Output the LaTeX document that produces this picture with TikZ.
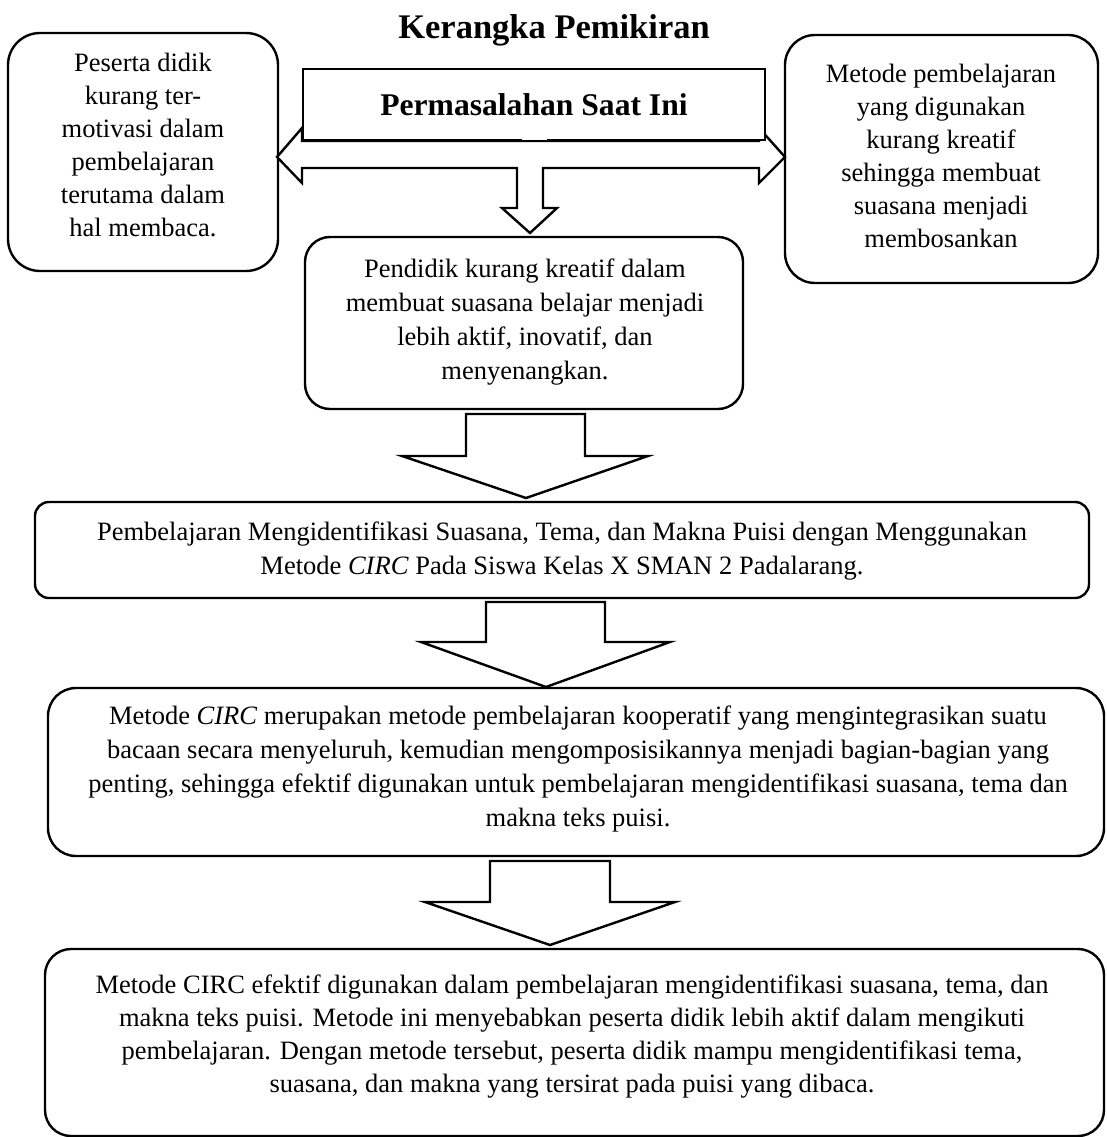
\documentclass[tikz,border=0pt]{standalone}
\usepackage{fontspec}
\setmainfont{Liberation Serif}
\begin{document}
\begin{tikzpicture}[x=1pt,y=-1pt,
  boxst/.style={draw, line width=2.4pt, fill=white, inner sep=0pt, outer sep=0pt},
  txt/.style={align=center, inner sep=0pt, font=\fontsize{26.5}{34}\selectfont},
  txtn/.style={align=center, inner sep=0pt, font=\fontsize{26.5}{33}\selectfont},
  blockarrow/.style={draw, line width=2.4pt, fill=white, line join=miter}]
\useasboundingbox (0,0) rectangle (1106,1137);

% title
\node[inner sep=0pt, font=\fontsize{34.5}{40}\selectfont\bfseries] (title) at (554,30) {Kerangka Pemikiran};

% left / right boxes
\node[boxst, rounded corners=32pt, minimum width=270pt, minimum height=238pt] (L) at (143,152) {};
\node[txtn] (Lt) at (143,145) {Peserta didik\\kurang ter-\\motivasi dalam\\pembelajaran\\terutama dalam\\hal membaca.};
\node[boxst, rounded corners=30pt, minimum width=313pt, minimum height=248pt] (R) at (941.5,159) {};
\node[txtn] (Rt) at (941,156) {Metode pembelajaran\\yang digunakan\\kurang kreatif\\sehingga membuat\\suasana menjadi\\membosankan};

% triple block arrow under the problem box
\draw[blockarrow] (277,157) -- (302,128) -- (302,141) -- (759,141) -- (759,128) -- (785,157)
  -- (759,183) -- (759,168) -- (543,168) -- (543,208) -- (557,208) -- (530,233)
  -- (502,208) -- (517,208) -- (517,168) -- (302,168) -- (302,183) -- cycle;
\node[boxst, minimum width=462pt, minimum height=71pt] (P) at (534,104.5) {};
\fill[white] (522,137.8) rectangle (547,140);
\node[inner sep=0pt, font=\fontsize{31.6}{38}\selectfont\bfseries] (Pt) at (534,105) {Permasalahan Saat Ini};

% middle box
\node[boxst, rounded corners=25pt, minimum width=438pt, minimum height=172pt] (M) at (524,323) {};
\node[txt] (Mt) at (525,322) {Pendidik kurang kreatif dalam\\membuat suasana belajar menjadi\\lebih aktif, inovatif, dan\\menyenangkan.};

% arrow 1
\draw[blockarrow] (466,414) -- (585,414) -- (585,456) -- (648,456) -- (526,498) -- (402,456) -- (466,456) -- cycle;

% box 3
\node[boxst, rounded corners=14pt, minimum width=1054pt, minimum height=96pt] (B3) at (562,550) {};
\node[txt] (B3t) at (562,551) {Pembelajaran Mengidentifikasi Suasana, Tema, dan Makna Puisi dengan Menggunakan\\Metode \textit{CIRC} Pada Siswa Kelas X SMAN 2 Padalarang.};

% arrow 2
\draw[blockarrow] (486,602) -- (605,602) -- (605,642) -- (670,642) -- (546,687) -- (421,642) -- (486,642) -- cycle;

% box 4
\node[boxst, rounded corners=28pt, minimum width=1056pt, minimum height=168pt] (B4) at (576,772) {};
\node[txt] (B4t) at (578,769) {Metode \textit{CIRC} merupakan metode pembelajaran kooperatif yang mengintegrasikan suatu\\bacaan secara menyeluruh, kemudian mengomposisikannya menjadi bagian-bagian yang\\penting, sehingga efektif digunakan untuk pembelajaran mengidentifikasi suasana, tema dan\\makna teks puisi.};

% arrow 3
\draw[blockarrow] (490,861) -- (610,861) -- (610,902) -- (675,902) -- (550,945) -- (425,902) -- (490,902) -- cycle;

% box 5
\node[boxst, rounded corners=26pt, minimum width=1059pt, minimum height=187pt] (B5) at (574.5,1042.5) {};
\node[txtn] (B5t) at (572,1037) {Metode CIRC efektif digunakan dalam pembelajaran mengidentifikasi suasana, tema, dan\\makna teks puisi. Metode ini menyebabkan peserta didik lebih aktif dalam mengikuti\\pembelajaran. Dengan metode tersebut, peserta didik mampu mengidentifikasi tema,\\suasana, dan makna yang tersirat pada puisi yang dibaca.};
\end{tikzpicture}
\end{document}
